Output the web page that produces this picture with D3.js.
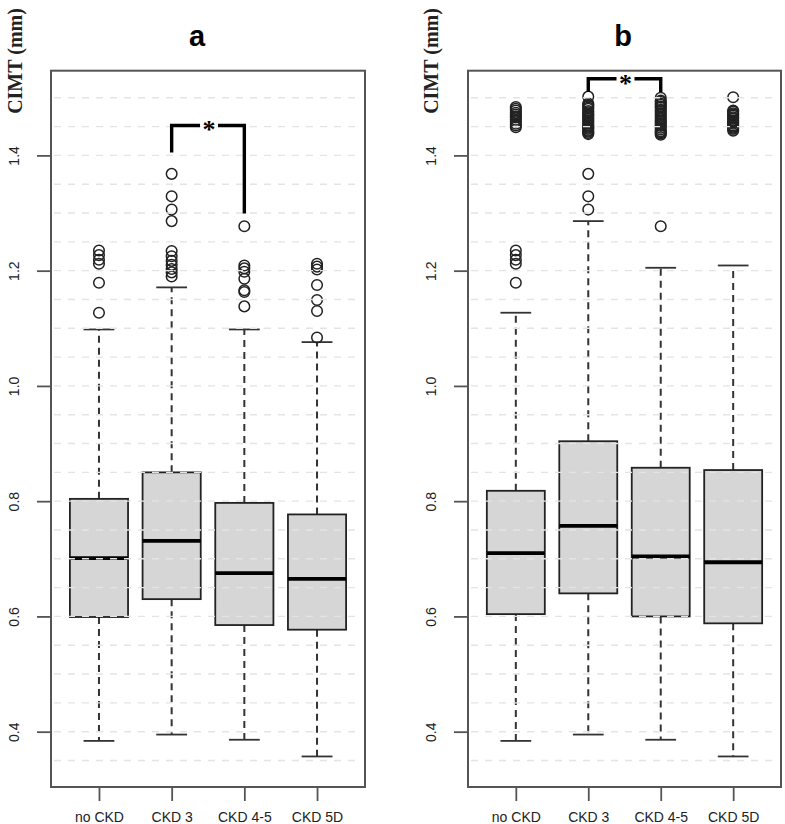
<!DOCTYPE html>
<html>
<head>
<meta charset="utf-8">
<script src="https://cdn.jsdelivr.net/npm/d3@7"></script>
<style>
  body { margin: 0; background: #fff; }
  svg { display: block; }
</style>
</head>
<body>
<svg id="chart" width="785" height="824"></svg>
<script>
// категории и подписи
const groups = ["no CKD", "CKD 3", "CKD 4-5", "CKD 5D"];
const yTicks = [0.4, 0.6, 0.8, 1.0, 1.2, 1.4];

// панель a
const a_lo = [0.384, 0.395, 0.386, 0.357];
const a_q1 = [0.599, 0.630, 0.585, 0.577];
const a_med = [0.701, 0.731, 0.675, 0.665];
const a_q3 = [0.804, 0.850, 0.797, 0.777];
const a_hi = [1.098, 1.171, 1.098, 1.076];
const a_out = [
  [1.235, 1.227, 1.219, 1.212, 1.179, 1.127],
  [1.368, 1.329, 1.306, 1.286, 1.234, 1.225, 1.217, 1.210, 1.203, 1.197, 1.190],
  [1.277, 1.209, 1.204, 1.198, 1.186, 1.166, 1.163, 1.138],
  [1.212, 1.207, 1.202, 1.175, 1.149, 1.130, 1.084],
];

// панель b
const b_lo = [0.384, 0.395, 0.386, 0.357];
const b_q1 = [0.604, 0.640, 0.600, 0.588];
const b_med = [0.710, 0.757, 0.704, 0.694];
const b_q3 = [0.818, 0.904, 0.858, 0.854];
const b_hi = [1.127, 1.286, 1.205, 1.209];
const b_out = [
  [1.484, 1.481, 1.478, 1.474, 1.471, 1.468, 1.466, 1.462, 1.459, 1.455, 1.452, 1.449,
   1.235, 1.227, 1.219, 1.212, 1.179],
  [1.502, 1.490, 1.488, 1.486, 1.483, 1.481, 1.477, 1.475, 1.472, 1.470, 1.468, 1.465, 1.463,
   1.460, 1.458, 1.455, 1.452, 1.450, 1.448, 1.446, 1.443, 1.441, 1.439, 1.437,
   1.368, 1.329, 1.306],
  [1.500, 1.495, 1.493, 1.490, 1.488, 1.485, 1.483, 1.479, 1.476, 1.473, 1.470, 1.467, 1.464,
   1.461, 1.459, 1.456, 1.453, 1.451, 1.448, 1.445, 1.442, 1.440, 1.438, 1.436,
   1.277],
  [1.501, 1.478, 1.476, 1.473, 1.471, 1.469, 1.466, 1.464, 1.461, 1.459, 1.457, 1.455, 1.452,
   1.450, 1.448, 1.446, 1.443],
];

// скобки значимости: [группа слева, группа справа, низ слева, верх, низ справа]
const a_sig = ["CKD 3", "CKD 4-5", 1.405, 1.452, 1.299];
const b_sig = ["CKD 3", "CKD 4-5", 1.510, 1.533, 1.510];

const svg = d3.select("#chart");

const y = d3.scaleLinear().domain([0.304, 1.547]).range([787, 70.7]);

function panel(opts) {
  const x = d3.scaleLinear().domain([0.34, 4.66]).range([opts.left, opts.right]);
  const xg = (name) => x(groups.indexOf(name) + 1);
  const halfBox = x(0.4) - x(0);
  const halfCap = halfBox * 0.53;
  const g = svg.append("g");

  const data = groups.map((name, i) => ({
    name,
    lo: opts.lo[i], q1: opts.q1[i], med: opts.med[i], q3: opts.q3[i], hi: opts.hi[i],
    out: opts.out[i],
  }));

  const box = g.selectAll(".box").data(data).enter().append("g");

  // усы
  box.append("line")
    .attr("x1", (d) => xg(d.name)).attr("x2", (d) => xg(d.name))
    .attr("y1", (d) => y(d.q3)).attr("y2", (d) => y(d.hi))
    .attr("stroke", "#333").attr("stroke-width", 2).attr("stroke-dasharray", "7,5");
  box.append("line")
    .attr("x1", (d) => xg(d.name)).attr("x2", (d) => xg(d.name))
    .attr("y1", (d) => y(d.q1)).attr("y2", (d) => y(d.lo))
    .attr("stroke", "#333").attr("stroke-width", 2).attr("stroke-dasharray", "7,5");
  box.append("line")
    .attr("x1", (d) => xg(d.name) - halfCap).attr("x2", (d) => xg(d.name) + halfCap)
    .attr("y1", (d) => y(d.hi)).attr("y2", (d) => y(d.hi))
    .attr("stroke", "#333").attr("stroke-width", 1.8);
  box.append("line")
    .attr("x1", (d) => xg(d.name) - halfCap).attr("x2", (d) => xg(d.name) + halfCap)
    .attr("y1", (d) => y(d.lo)).attr("y2", (d) => y(d.lo))
    .attr("stroke", "#333").attr("stroke-width", 1.8);

  // ящики
  box.append("rect")
    .attr("x", (d) => xg(d.name) - halfBox)
    .attr("width", halfBox * 2)
    .attr("y", (d) => y(d.q3))
    .attr("height", (d) => y(d.q1) - y(d.q3))
    .attr("fill", "#d6d6d6").attr("stroke", "#222").attr("stroke-width", 1.8);
  box.append("line")
    .attr("x1", (d) => xg(d.name) - halfBox).attr("x2", (d) => xg(d.name) + halfBox)
    .attr("y1", (d) => y(d.med)).attr("y2", (d) => y(d.med))
    .attr("stroke", "#000").attr("stroke-width", 3.8);

  // выбросы
  box.selectAll("circle")
    .data((d) => d.out.map((v) => ({ name: d.name, v })))
    .enter().append("circle")
    .attr("cx", (d) => xg(d.name))
    .attr("cy", (d) => y(d.v))
    .attr("r", 5.3)
    .attr("fill", "none").attr("stroke", "#222").attr("stroke-width", 1.5);

  // сетка поверх
  g.selectAll(".grid")
    .data(d3.range(0.35, 1.5001, 0.05))
    .enter().append("line")
    .attr("x1", opts.left + 3).attr("x2", opts.right - 3)
    .attr("y1", (d) => y(d)).attr("y2", (d) => y(d))
    .attr("stroke", "#e4e4e4").attr("stroke-width", 1.4).attr("stroke-dasharray", "7,7");

  // рамка
  g.append("rect")
    .attr("x", opts.left).attr("y", y.range()[1])
    .attr("width", opts.right - opts.left)
    .attr("height", y.range()[0] - y.range()[1])
    .attr("fill", "none").attr("stroke", "#555").attr("stroke-width", 2);

  // ось Y
  const ya = g.append("g")
    .attr("transform", `translate(${opts.left},0)`)
    .call(d3.axisLeft(y).tickValues(yTicks).tickSize(14).tickFormat(d3.format(".1f")));
  ya.select(".domain").remove();
  ya.selectAll(".tick line").attr("stroke", "#555").attr("stroke-width", 1.8);
  ya.selectAll(".tick text")
    .attr("x", null).attr("dy", null)
    .attr("text-anchor", "middle")
    .attr("transform", "translate(-32,0) rotate(-90)")
    .attr("font-family", "Liberation Sans, Arial, sans-serif")
    .attr("font-size", 14).attr("fill", "#222");

  // ось X
  const xa = g.append("g")
    .attr("transform", `translate(0,${y.range()[0]})`)
    .call(d3.axisBottom(x).tickValues([1, 2, 3, 4]).tickSize(14).tickFormat((d) => groups[d - 1]));
  xa.select(".domain").remove();
  xa.selectAll(".tick line").attr("stroke", "#555").attr("stroke-width", 1.8);
  xa.selectAll(".tick text")
    .attr("y", 25)
    .attr("font-family", "Liberation Sans, Arial, sans-serif")
    .attr("font-size", 14).attr("fill", "#222");

  // подпись оси
  svg.append("text")
    .attr("transform", `translate(${opts.labelX},61) rotate(-90)`)
    .attr("text-anchor", "middle")
    .attr("font-family", "Liberation Serif, Times New Roman, serif")
    .attr("font-weight", "bold").attr("font-size", 20).attr("fill", "#222")
    .text("CIMT (mm)");

  // заголовок
  svg.append("text")
    .attr("x", opts.titleX).attr("y", 46)
    .attr("text-anchor", "middle")
    .attr("font-family", "Liberation Sans, Arial, sans-serif")
    .attr("font-weight", "bold").attr("font-size", 29)
    .text(opts.title);

  // скобка значимости
  const s = opts.sig;
  const x1 = xg(s[0]), x2 = xg(s[1]);
  const xm = (x1 + x2) / 2;
  g.append("path")
    .attr("d", `M${x1},${y(s[2])}V${y(s[3])}H${xm - 8}M${xm + 10},${y(s[3])}H${x2}V${y(s[4])}`)
    .attr("fill", "none").attr("stroke", "#000").attr("stroke-width", 3.4);
  g.append("text")
    .attr("x", xm + 1).attr("y", y(s[3]) + 13)
    .attr("text-anchor", "middle")
    .attr("font-family", "Liberation Serif, Times New Roman, serif")
    .attr("font-weight", "bold").attr("font-size", 26)
    .text("*");
}

panel({ left: 51, right: 365, labelX: 22, titleX: 197, title: "a",
  lo: a_lo, q1: a_q1, med: a_med, q3: a_q3, hi: a_hi, out: a_out, sig: a_sig });
panel({ left: 468, right: 781, labelX: 438, titleX: 623, title: "b",
  lo: b_lo, q1: b_q1, med: b_med, q3: b_q3, hi: b_hi, out: b_out, sig: b_sig });
</script>
</body>
</html>
